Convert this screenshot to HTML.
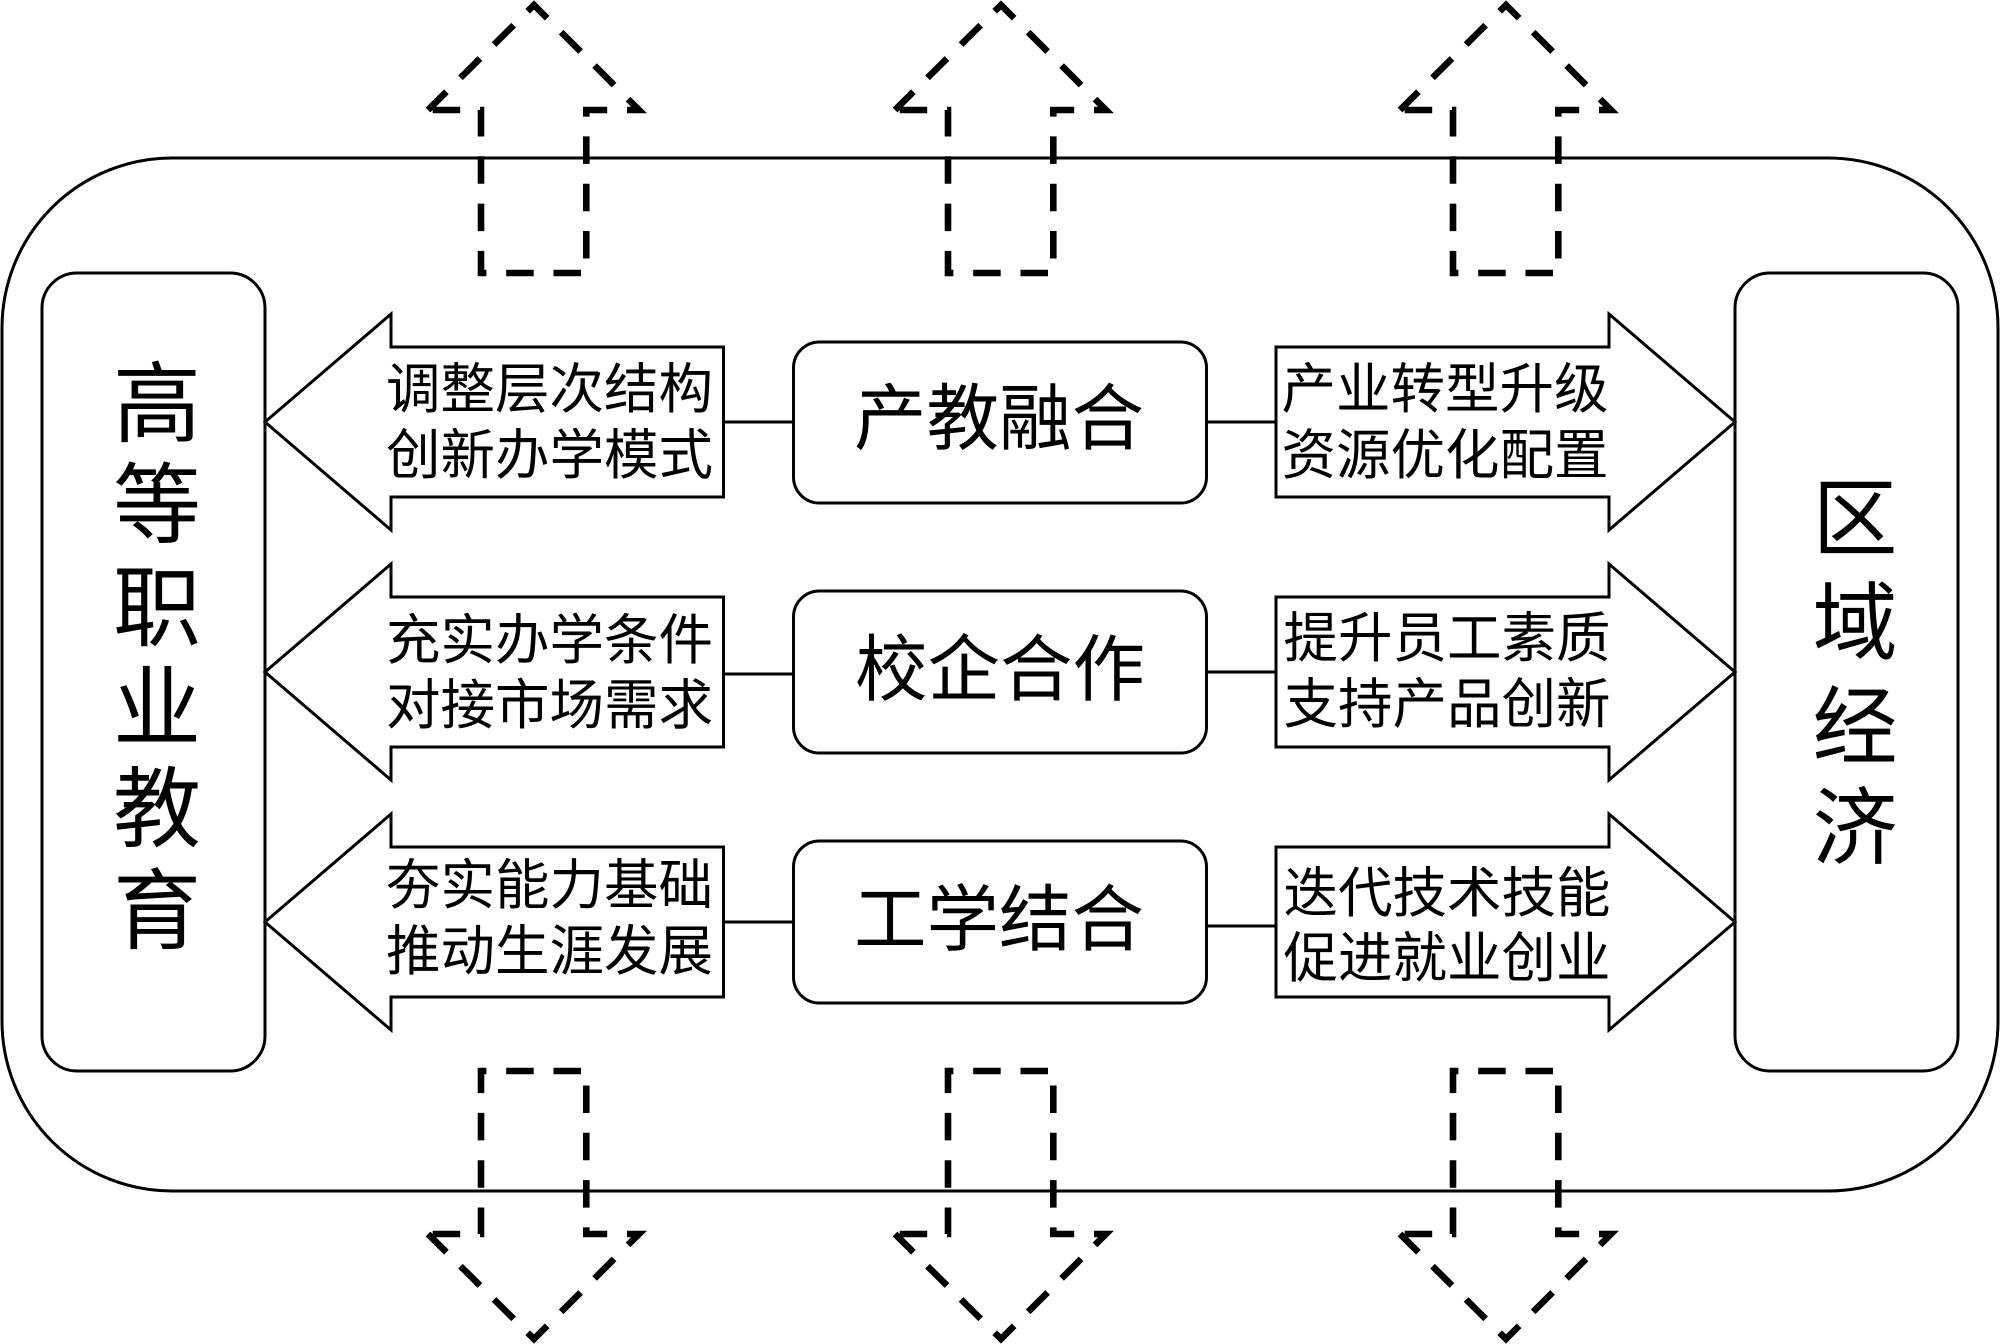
<!DOCTYPE html>
<html lang="zh">
<head>
<meta charset="utf-8">
<title>高等职业教育与区域经济</title>
<style>
html,body{margin:0;padding:0;background:#fff;width:2000px;height:1344px;overflow:hidden}
svg{display:block}
text{font-family:"Liberation Sans","Noto Sans CJK SC",sans-serif;fill:#000;text-anchor:middle}
.s{fill:none;stroke:#000;stroke-width:3}
.w{fill:#fff;stroke:#000;stroke-width:3;stroke-linejoin:miter}
.d{fill:none;stroke:#000;stroke-width:6.6;stroke-dasharray:27.5 19.8;stroke-dashoffset:1.6;stroke-linejoin:miter}
.t{font-size:54.5px}
.c{font-size:72.5px}
.b{font-size:88px}
.r{font-size:85px}
</style>
</head>
<body>
<svg width="2000" height="1344" viewBox="0 0 2000 1344" xmlns="http://www.w3.org/2000/svg">
<rect width="2000" height="1344" fill="#fff"/>
<rect class="s" x="2" y="158" width="1996" height="1033" rx="170" ry="170"/>
<rect class="s" x="42" y="273" width="223" height="798" rx="35" ry="35"/>
<rect class="s" x="1735" y="273" width="223" height="798" rx="35" ry="35"/>

<defs>
<path id="da" d="M428 110 L534 5 L639 110 L586.3 110 L586.3 273 L481 273 L481 110 Z"/>
</defs>
<g class="d">
<use href="#da"/>
<use href="#da" x="467"/>
<use href="#da" x="972"/>
<use href="#da" transform="matrix(1 0 0 -1 0 1344)"/>
<use href="#da" transform="matrix(1 0 0 -1 467 1344)"/>
<use href="#da" transform="matrix(1 0 0 -1 972 1344)"/>
</g>

<path class="s" d="M723 422H793M723 674H793M723 922H793M1206 422H1275M1206 672H1275M1206 926H1275"/>

<path class="w" d="M265 422 L391 314 V347 H723.5 V497 H391 V530 Z"/>
<path class="w" d="M265 672 L391 564 V597 H723.5 V747 H391 V780 Z"/>
<path class="w" d="M265 922 L391 814 V847 H723.5 V997 H391 V1030 Z"/>
<path class="w" d="M1735 422 L1609 314 V347 H1276 V497 H1609 V530 Z"/>
<path class="w" d="M1735 672 L1609 564 V597 H1276 V747 H1609 V780 Z"/>
<path class="w" d="M1735 922 L1609 814 V847 H1276 V997 H1609 V1030 Z"/>

<rect class="w" x="793.5" y="342" width="413" height="161" rx="26" ry="26"/>
<rect class="w" x="793.5" y="591" width="413" height="162" rx="26" ry="26"/>
<rect class="w" x="793.5" y="841" width="413" height="162" rx="26" ry="26"/>

<text class="t" x="549.5" y="408">调整层次结构</text>
<text class="t" x="549.5" y="474">创新办学模式</text>
<text class="t" x="549.5" y="659">充实办学条件</text>
<text class="t" x="549.5" y="724">对接市场需求</text>
<text class="t" x="549.5" y="904">夯实能力基础</text>
<text class="t" x="549.5" y="970">推动生涯发展</text>

<text class="t" x="1445" y="408">产业转型升级</text>
<text class="t" x="1445" y="474">资源优化配置</text>
<text class="t" x="1447" y="657">提升员工素质</text>
<text class="t" x="1447" y="723">支持产品创新</text>
<text class="t" x="1447" y="912">迭代技术技能</text>
<text class="t" x="1447" y="977">促进就业创业</text>

<text class="c" x="999" y="444">产教融合</text>
<text class="c" x="1000" y="695">校企合作</text>
<text class="c" x="999" y="945">工学结合</text>

<text class="b" x="157" y="435">高</text>
<text class="b" x="157" y="536">等</text>
<text class="b" x="157" y="639">职</text>
<text class="b" x="157" y="739">业</text>
<text class="b" x="157" y="840">教</text>
<text class="b" x="157" y="942">育</text>

<text class="r" x="1855" y="549">区</text>
<text class="r" x="1855" y="653">域</text>
<text class="r" x="1855" y="757">经</text>
<text class="r" x="1855" y="858">济</text>
</svg>
</body>
</html>
